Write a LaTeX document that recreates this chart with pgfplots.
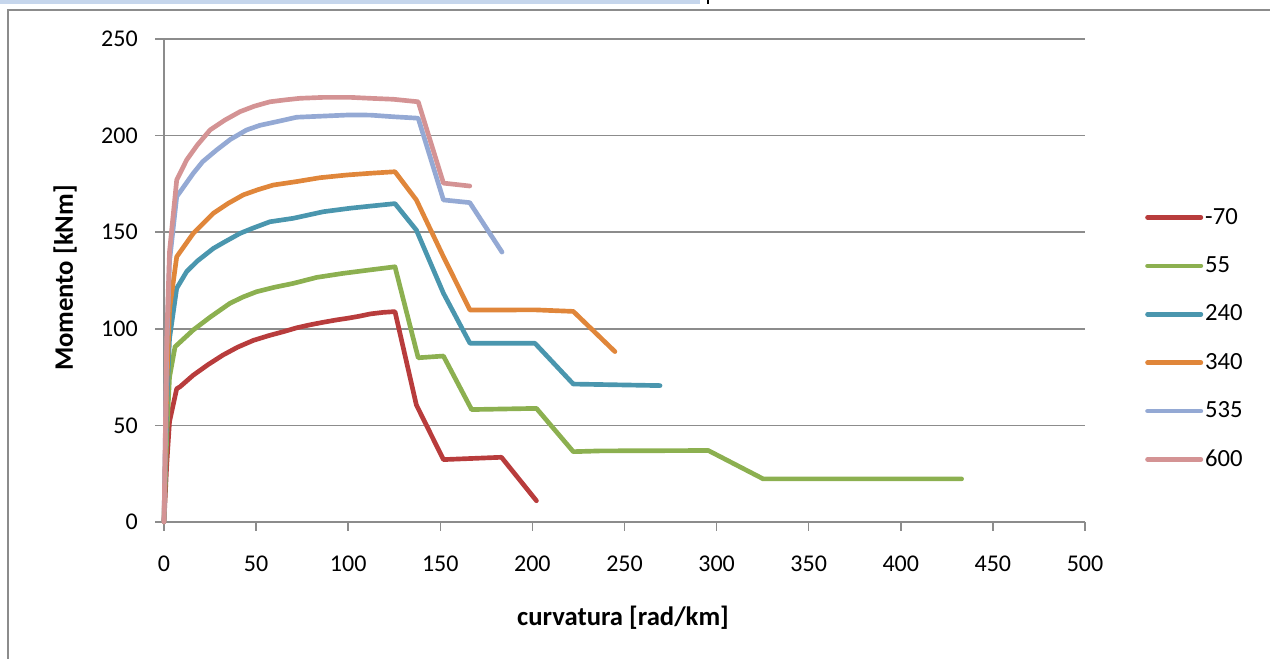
\documentclass[border=0pt]{standalone}
\usepackage{fontspec}
\setmainfont{Carlito}
\usepackage{pgfplots}
\pgfplotsset{compat=1.18}
\definecolor{cred}{HTML}{B83C3C}
\definecolor{cgreen}{HTML}{8CB050}
\definecolor{cteal}{HTML}{4A96AE}
\definecolor{corange}{HTML}{E0863A}
\definecolor{cblue}{HTML}{94A9D4}
\definecolor{cpink}{HTML}{D49394}
\definecolor{cgrid}{HTML}{8C8C8C}
\definecolor{cband}{HTML}{C6D6EC}
\begin{document}
\begin{tikzpicture}
\useasboundingbox (0,0) rectangle (952.5pt,494.25pt);
\fill[cband] (0,491.25pt) rectangle (525pt,494.25pt);
\fill[black] (530pt,491.5pt) rectangle (532pt,494.25pt);
\draw[cgrid, line width=1.1pt] (6pt,0) -- (6pt,486.75pt) -- (952.5pt,486.75pt);
\begin{axis}[
  at={(123pt,102.75pt)}, anchor=south west,
  width=690.75pt, height=362.25pt, scale only axis,
  xmin=0, xmax=500, ymin=0, ymax=250,
  xtick={0,50,...,500}, ytick={0,50,...,250},
  axis x line=bottom, axis y line=left,
  axis line style={cgrid, line width=1.1pt, -},
  ymajorgrids, grid style={cgrid, line width=1.1pt},
  tick align=outside, major tick length=6.5pt,
  tick style={cgrid, line width=1.1pt},
  font=\fontsize{18}{21}\selectfont,
  /pgf/number format/assume math mode=true,
  xticklabel style={anchor=base, inner sep=0pt, yshift=-31pt},
  yticklabel style={anchor=east, inner sep=0pt, xshift=-13pt},
  every axis y label/.style={at={(axis description cs:-0.1075,0.505)}, rotate=90, anchor=center, font=\fontsize{20}{24}\selectfont\bfseries},
  every axis x label/.style={at={(axis description cs:0.4984,-0.1988)}, anchor=center, font=\fontsize{20}{24}\selectfont\bfseries},
  xlabel={curvatura [rad/km]},
  ylabel={Momento [kNm]},
  clip=false,
  every axis plot/.append style={line width=3.5pt, line join=round, line cap=round},
  legend style={at={(1.0651,0.380)}, anchor=west, draw=none, fill=none, inner sep=0pt, row sep=17.3pt,
    nodes={inner sep=1.5pt, text height=13pt, text depth=3pt}, font=\fontsize{18.5}{21}\selectfont},
  legend cell align=left,
  legend image code/.code={\draw[#1, line width=3.5pt, line cap=round] (0pt,0pt) -- (40pt,0pt);},
]
\addplot[cred] coordinates {(0,0)(1.5,30)(3,52)(6.9,69)(8.7,70)(15.9,76)(24,81.5)(32,86.4)(40,90.5)(48.5,94)(57,96.5)(64.8,98.5)(72,100.5)(79,102)(86,103.3)(93.7,104.6)(100,105.5)(106,106.5)(112,107.7)(119,108.5)(125.4,108.9)(137,60.6)(151.7,32.3)(183.2,33.5)(202.2,11)};
\addlegendentry{-70}
\addplot[cgreen] coordinates {(0,0)(1.5,45)(3,75)(6,90.7)(15.9,99.4)(25,106)(35.8,113.2)(43,116.5)(50.3,119.2)(60,121.5)(70.2,123.5)(82.9,126.6)(97.3,128.7)(112,130.5)(125.4,132.1)(138,85)(151.7,85.9)(167,58.2)(202.2,58.8)(222.2,36.4)(236.7,36.8)(295.5,37)(325.3,22.3)(433,22.3)};
\addlegendentry{55}
\addplot[cteal] coordinates {(0,0)(1.5,60)(3,95)(6.9,121)(12.3,129.6)(18,135)(26.8,141.6)(33,145)(41.3,149.4)(48,152)(57.5,155.4)(70.2,157.2)(86.5,160.6)(101,162.4)(112,163.5)(125.4,164.8)(137,151.1)(151.7,118.4)(166.1,92.5)(201.4,92.5)(222.2,71.4)(269.3,70.6)};
\addlegendentry{240}
\addplot[corange] coordinates {(0,0)(1.5,70)(3,110)(6.9,137.3)(15.9,149.4)(26.8,159.8)(35,165)(43,169.3)(51,172)(59.3,174.4)(72,176.2)(84.7,178.2)(99.2,179.6)(112,180.5)(125.4,181.3)(137,166.7)(151.7,137.3)(166.1,109.7)(201.4,109.8)(222.2,109)(244.8,88.2)};
\addlegendentry{340}
\addplot[cblue] coordinates {(0,0)(1.5,90)(3,135)(6.9,168.4)(15.9,180.5)(21,186.5)(28.5,192.5)(36,198)(44.8,202.9)(52,205.3)(61.2,207.2)(72,209.5)(86.5,210.1)(101,210.7)(112,210.6)(125.4,209.7)(138,209)(151.7,166.7)(166,165.3)(183.5,139.7)};
\addlegendentry{535}
\addplot[cpink] coordinates {(0,0)(1.5,95)(3,140)(6.9,177)(12.3,187.4)(18,195)(25,202.9)(33,208)(41.3,212.4)(49,215.2)(57.5,217.5)(66,218.5)(73.8,219.3)(87,219.8)(101,219.8)(112,219.3)(124.5,218.8)(138,217.5)(151.7,175.4)(166,173.9)};
\addlegendentry{600}
\end{axis}
\end{tikzpicture}
\end{document}
